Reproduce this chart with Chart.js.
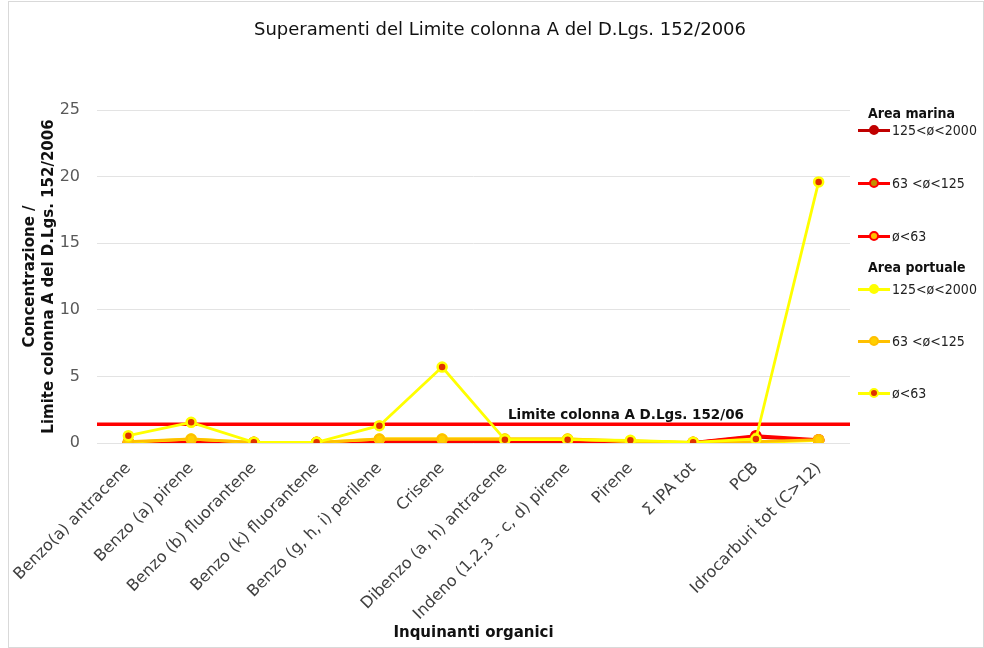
<!DOCTYPE html>
<html>
<head>
<meta charset="utf-8">
<script src="https://cdn.jsdelivr.net/npm/chart.js@4"></script>
<style>
  html, body { margin: 0; padding: 0; background: #fff; }
  body { width: 984px; height: 648px; position: relative; overflow: hidden;
         font-family: "DejaVu Sans", sans-serif; }
  #frame { position: absolute; left: 8px; top: 1px; width: 974px; height: 645px; border: 1px solid #d9d9d9; }
  #chart { position: absolute; left: 0; top: 0; }
  #title { position: absolute; left: 0; width: 1000px; top: 18px; text-align: center; font-size: 18px; color: #111; }
  #legend { position: absolute; left: 856px; top: 0; width: 128px; height: 648px;
            font-family: "DejaVu Sans Condensed", "DejaVu Sans", sans-serif; }
  .lg-head { position: absolute; left: 12px; font-weight: bold; font-size: 14px; color: #111; }
  .lg-item { position: absolute; left: 2px; height: 14px; display: flex; align-items: center; font-size: 14px; color: #222; }
  .lg-swatch { position: relative; width: 32px; height: 14px; margin-right: 2px; }
  .lg-line { position: absolute; left: 0; right: 0; top: 6px; height: 3px; }
  .lg-dot { position: absolute; left: 11px; top: 2px; width: 6px; height: 6px; border-radius: 50%; border-style: solid; border-width: 2px; }
</style>
</head>
<body>
<div id="frame"></div>
<canvas id="chart" width="984" height="648"></canvas>
<div id="title">Superamenti del Limite colonna A del D.Lgs. 152/2006</div>
<div id="legend"></div>
<script>
const categories = [
  'Benzo(a) antracene', 'Benzo (a) pirene', 'Benzo (b) fluorantene', 'Benzo (k) fluorantene',
  'Benzo (g, h, i) perilene', 'Crisene', 'Dibenzo (a, h) antracene', 'Indeno (1,2,3 - c, d) pirene',
  'Pirene', 'Σ IPA tot', 'PCB', 'Idrocarburi tot (C>12)'
]
const yTicks = [0, 5, 10, 15, 20, 25]

// Area marina
const marina125 = [0.02, 0.10, 0.02, 0.02, 0.10, 0.10, 0.10, 0.10, 0.02, 0.02, 0.45, 0.20]
const marina63  = [0.03, 0.12, 0.03, 0.03, 0.12, 0.12, 0.12, 0.12, 0.03, 0.03, 0.50, 0.20]
const marinaLt63 = [0.05, 0.15, 0.05, 0.05, 0.15, 0.15, 0.15, 0.15, 0.05, 0.05, 0.55, 0.25]
// Area portuale
const porto125 = [0.05, 0.30, 0.03, 0.03, 0.30, 0.30, 0.30, 0.30, 0.10, 0.03, 0.03, 0.20]
const porto63  = [0.10, 0.30, 0.05, 0.05, 0.30, 0.30, 0.30, 0.30, 0.15, 0.05, 0.10, 0.25]
const portoLt63 = [0.55, 1.55, 0.05, 0.05, 1.30, 5.70, 0.25, 0.25, 0.20, 0.05, 0.30, 19.60]

// Limite colonna A (linea orizzontale lungo tutto il grafico)
const limitX = [-0.5, 11.5]
const limitY = [1.4, 1.4]
const limitLabel = 'Limite colonna A D.Lgs. 152/06'

const pts = arr => arr.map((v, i) => ({ x: i, y: v }))

const series = [
  { group: 'Area marina',   label: '125<ø<2000', data: marina125,  line: '#C00000', fill: '#C00000', ring: '#C00000', order: 6 },
  { group: 'Area marina',   label: '63 <ø<125',  data: marina63,   line: '#FF0000', fill: '#C09000', ring: '#FF0000', order: 5 },
  { group: 'Area marina',   label: 'ø<63',       data: marinaLt63, line: '#FF0000', fill: '#FFC000', ring: '#FF0000', order: 4 },
  { group: 'Area portuale', label: '125<ø<2000', data: porto125,   line: '#FFFF00', fill: '#FFFF00', ring: '#FFFF00', order: 3 },
  { group: 'Area portuale', label: '63 <ø<125',  data: porto63,    line: '#FFC000', fill: '#FFD000', ring: '#FFC000', order: 2 },
  { group: 'Area portuale', label: 'ø<63',       data: portoLt63,  line: '#FFFF00', fill: '#E03000', ring: '#FFFF00', order: 0 }
]

const datasets = series.map(s => ({
  label: s.label,
  data: pts(s.data),
  borderColor: s.line,
  backgroundColor: s.fill,
  borderWidth: 2.8,
  pointRadius: 4.5,
  pointBorderWidth: 2.5,
  pointBackgroundColor: s.fill,
  pointBorderColor: s.ring,
  tension: 0,
  order: s.order
}))

datasets.push({
  label: 'Limite',
  data: limitX.map((x, i) => ({ x, y: limitY[i] })),
  borderColor: '#FF0000',
  borderWidth: 3.5,
  pointRadius: 0,
  order: 1
})

// etichetta della linea limite, posizionata con le scale del grafico
const limitLabelPlugin = {
  id: 'limitLabel',
  afterDatasetsDraw(chart) {
    const { ctx, scales: { x, y } } = chart
    ctx.save()
    ctx.font = 'bold 13.5px "DejaVu Sans", sans-serif'
    ctx.fillStyle = '#111'
    ctx.textAlign = 'left'
    ctx.textBaseline = 'bottom'
    ctx.fillText(limitLabel, x.getPixelForValue(6.05), y.getPixelForValue(limitY[0]) - 2)
    ctx.restore()
  }
}

const FONT = '"DejaVu Sans", sans-serif'

new Chart(document.getElementById('chart').getContext('2d'), {
  type: 'line',
  data: { datasets },
  plugins: [limitLabelPlugin],
  options: {
    responsive: false,
    animation: false,
    layout: { padding: { top: 110, right: 134, bottom: 0, left: 0 } },
    plugins: {
      legend: { display: false },
      title: { display: false },
      tooltip: { enabled: false }
    },
    scales: {
      x: {
        type: 'linear',
        min: -0.5,
        max: 11.5,
        afterBuildTicks: s => { s.ticks = categories.map((c, i) => ({ value: i })) },
        afterFit: s => { s.height = 205; s.paddingLeft = 0; s.paddingRight = 0 },
        ticks: {
          autoSkip: false,
          minRotation: 45,
          maxRotation: 45,
          padding: 16,
          color: '#404040',
          font: { family: FONT, size: 16 },
          callback: v => categories[v]
        },
        grid: { display: false, drawTicks: false },
        border: { display: false },
        title: {
          display: true,
          text: 'Inquinanti organici',
          color: '#111',
          font: { family: FONT, size: 15, weight: 'bold' },
          padding: { top: 0, bottom: 6 }
        }
      },
      y: {
        min: 0,
        max: 25,
        afterBuildTicks: s => { s.ticks = yTicks.map(v => ({ value: v })) },
        afterFit: s => { s.width = 97 },
        ticks: {
          padding: 17,
          color: '#595959',
          font: { family: FONT, size: 16 }
        },
        grid: { color: '#e3e3e3', drawTicks: false },
        border: { display: false },
        title: {
          display: true,
          text: ['Concentrazione /', 'Limite colonna A del D.Lgs. 152/2006'],
          color: '#111',
          font: { family: FONT, size: 15, weight: 'bold', lineHeight: 1.25 },
          padding: { top: 21, bottom: 0 }
        }
      }
    }
  }
})

// legenda raggruppata (Area marina / Area portuale)
const legendRows = [114, 130, 183, 236, 268, 289, 341, 393]
const legend = document.getElementById('legend')
let row = 0
let lastGroup = null
series.forEach(s => {
  if (s.group !== lastGroup) {
    const h = document.createElement('div')
    h.className = 'lg-head'
    h.textContent = s.group
    h.style.top = (legendRows[row++] - 9) + 'px'
    legend.appendChild(h)
    lastGroup = s.group
  }
  const it = document.createElement('div')
  it.className = 'lg-item'
  it.style.top = (legendRows[row++] - 7) + 'px'
  it.innerHTML = `<span class="lg-swatch"><span class="lg-line" style="background:${s.line}"></span>` +
    `<span class="lg-dot" style="background:${s.fill};border-color:${s.ring}"></span></span><span>${s.label}</span>`
  legend.appendChild(it)
})
</script>
</body>
</html>
